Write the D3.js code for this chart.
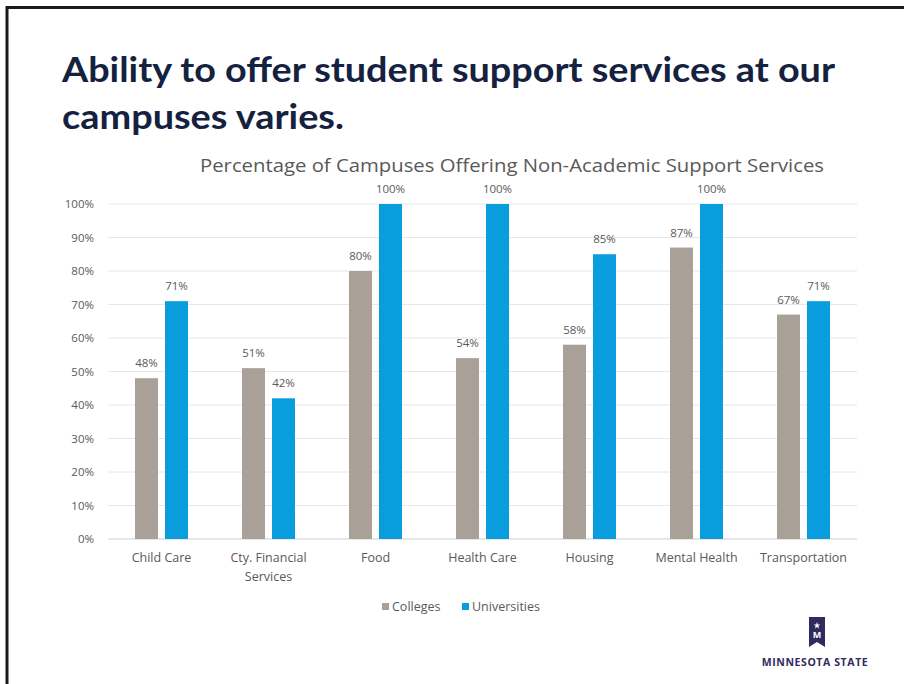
<!DOCTYPE html>
<html>
<head>
<meta charset="utf-8">
<script src="https://cdn.jsdelivr.net/npm/d3@7"></script>
<style>
  body { margin: 0; background: #fff; }
  svg { display: block; font-family: "Open Sans", "Noto Sans", sans-serif; }
  .tick text { fill: #595959; font-family: "Open Sans", "Noto Sans", sans-serif; }
</style>
</head>
<body>
<div id="chart"></div>
<script>
// chart data
var categories = ["Child Care", "Cty. Financial Services", "Food", "Health Care", "Housing", "Mental Health", "Transportation"];
var seriesNames = ["Colleges", "Universities"];
var colleges = [48, 51, 80, 54, 58, 87, 67];
var universities = [71, 42, 100, 100, 85, 100, 71];
var yTicks = [0, 10, 20, 30, 40, 50, 60, 70, 80, 90, 100];
var colors = ["#a9a198", "#0a9ddd"];

var width = 904;
var height = 684;
var plotLeft = 108;
var plotRight = 857;
var plotTop = 204;
var plotBottom = 539;

var svg = d3.select("#chart")
  .append("svg")
  .attr("width", width)
  .attr("height", height);

// slide frame
svg.append("path")
  .attr("d", "M7,684 V7.5 H904")
  .attr("fill", "none")
  .attr("stroke", "#1a1a1a")
  .attr("stroke-width", 3);

// slide title
var title = svg.append("text")
  .attr("x", 62)
  .attr("fill", "#14223f")
  .attr("font-size", 34)
  .attr("font-weight", "bold")
  .attr("font-family", "Lato, 'Open Sans', sans-serif");
title.append("tspan").attr("x", 62).attr("y", 82).attr("textLength", 773).attr("lengthAdjust", "spacingAndGlyphs")
  .text("Ability to offer student support services at our");
title.append("tspan").attr("x", 62).attr("y", 129).attr("textLength", 282).attr("lengthAdjust", "spacingAndGlyphs")
  .text("campuses varies.");

// chart title
svg.append("text")
  .attr("x", 512)
  .attr("y", 172)
  .attr("text-anchor", "middle")
  .attr("fill", "#595959")
  .attr("font-size", 19)
  .attr("textLength", 624)
  .attr("lengthAdjust", "spacingAndGlyphs")
  .text("Percentage of Campuses Offering Non-Academic Support Services");

var x0 = d3.scaleBand()
  .domain(categories)
  .range([plotLeft, plotRight]);

// two bars per category, ~23px wide with a small gap
var x1 = d3.scaleBand()
  .domain(seriesNames)
  .range([0, x0.bandwidth()])
  .paddingInner(0.233)
  .paddingOuter(0.9);

var y = d3.scaleLinear()
  .domain([0, 100])
  .range([plotBottom, plotTop]);

// gridlines
svg.append("g")
  .selectAll("line")
  .data(yTicks)
  .enter()
  .append("line")
  .attr("x1", plotLeft)
  .attr("x2", plotRight)
  .attr("y1", function(d) { return y(d); })
  .attr("y2", function(d) { return y(d); })
  .attr("stroke", function(d) { return d === 0 ? "#d0d0d0" : "#e6e6e6"; })
  .attr("stroke-width", 1);

// y axis
var yAxis = d3.axisLeft(y)
  .tickValues(yTicks)
  .tickSize(0)
  .tickPadding(14)
  .tickFormat(function(d) { return d + "%"; });
svg.append("g")
  .attr("transform", "translate(" + plotLeft + ",0)")
  .call(yAxis)
  .call(function(g) { g.select(".domain").remove(); })
  .selectAll(".tick text")
  .attr("font-size", 11.5);

// bars
var rows = categories.map(function(c, i) {
  return { cat: c, values: [colleges[i], universities[i]] };
});

var groups = svg.append("g")
  .selectAll("g")
  .data(rows)
  .enter()
  .append("g")
  .attr("transform", function(d) { return "translate(" + x0(d.cat) + ",0)"; });

groups.selectAll("rect")
  .data(function(d) { return d.values.map(function(v, j) { return { name: seriesNames[j], value: v, j: j }; }); })
  .enter()
  .append("rect")
  .attr("x", function(d) { return x1(d.name); })
  .attr("y", function(d) { return y(d.value); })
  .attr("width", x1.bandwidth())
  .attr("height", function(d) { return plotBottom - y(d.value); })
  .attr("fill", function(d) { return colors[d.j]; });

// value labels
groups.selectAll("text")
  .data(function(d) { return d.values.map(function(v, j) { return { name: seriesNames[j], value: v }; }); })
  .enter()
  .append("text")
  .attr("x", function(d) { return x1(d.name) + x1.bandwidth() / 2; })
  .attr("y", function(d) { return y(d.value) - 11; })
  .attr("text-anchor", "middle")
  .attr("fill", "#595959")
  .attr("font-size", 11.5)
  .text(function(d) { return d.value + "%"; });

// x axis labels
var xAxis = d3.axisBottom(x0).tickSize(0).tickPadding(14);
var xg = svg.append("g")
  .attr("transform", "translate(0," + plotBottom + ")")
  .call(xAxis);
xg.select(".domain").remove();
xg.selectAll(".tick text")
  .attr("font-size", 12.5)
  .each(function(d) {
    var t = d3.select(this);
    if (d === "Cty. Financial Services") {
      t.text(null);
      t.append("tspan").attr("x", 0).attr("dy", "0.71em").text("Cty. Financial");
      t.append("tspan").attr("x", 0).attr("dy", "1.5em").text("Services");
      t.attr("dy", null);
    }
  });

// legend
var legendItems = [
  { name: "Colleges", x: 382, color: colors[0] },
  { name: "Universities", x: 462, color: colors[1] }
];
var legend = svg.append("g").selectAll("g").data(legendItems).enter().append("g")
  .attr("transform", function(d) { return "translate(" + d.x + ",603)"; });
legend.append("rect").attr("width", 7).attr("height", 7).attr("fill", function(d) { return d.color; });
legend.append("text")
  .attr("x", 10)
  .attr("y", 8)
  .attr("fill", "#595959")
  .attr("font-size", 12.5)
  .text(function(d) { return d.name; });

// logo
var logo = svg.append("g").attr("transform", "translate(809,617)");
logo.append("path")
  .attr("d", "M0,0 H16 V30 L8,25 L0,30 Z")
  .attr("fill", "#2f2b5e");
logo.append("path")
  .attr("d", "M8,5 L8.8,7.5 L11.3,7.5 L9.3,9 L10.1,11.5 L8,10 L5.9,11.5 L6.7,9 L4.7,7.5 L7.2,7.5 Z")
  .attr("fill", "#fff");
logo.append("text")
  .attr("x", 8)
  .attr("y", 21)
  .attr("text-anchor", "middle")
  .attr("fill", "#fff")
  .attr("font-size", 9)
  .attr("font-weight", "bold")
  .text("M");
svg.append("text")
  .attr("x", 815)
  .attr("y", 666)
  .attr("text-anchor", "middle")
  .attr("fill", "#2f2b5e")
  .attr("font-size", 10.5)
  .attr("font-weight", "bold")
  .attr("letter-spacing", 0.6)
  .text("MINNESOTA STATE");
</script>
</body>
</html>
